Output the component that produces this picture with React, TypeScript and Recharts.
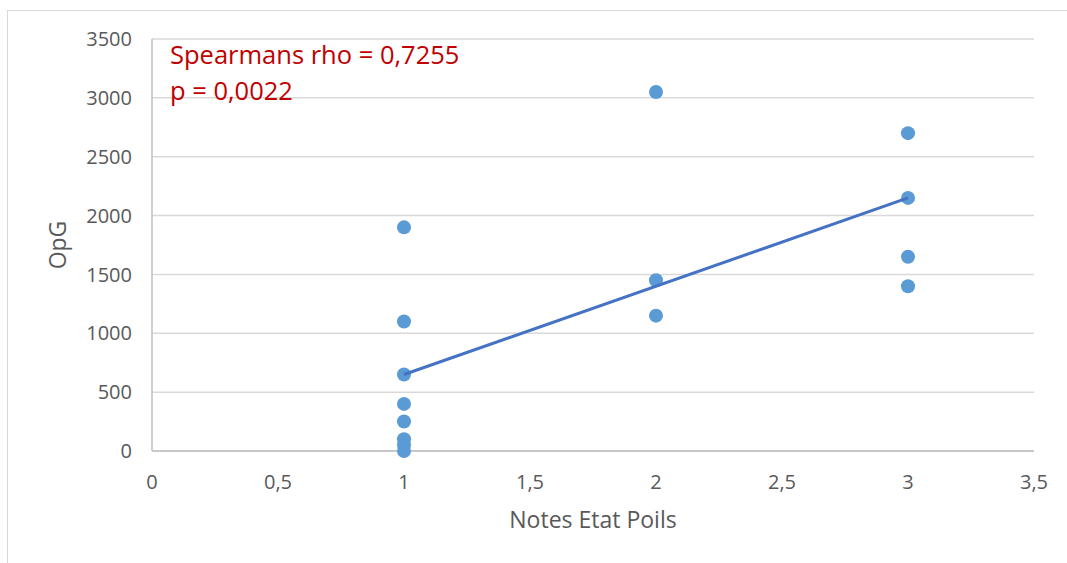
import { ScatterChart, Scatter, XAxis, YAxis, CartesianGrid, Label } from 'recharts'

// Notes Etat Poils (x) vs OpG (y)
const noteValues = [1, 1, 1, 1, 1, 1, 1, 1, 2, 2, 2, 3, 3, 3, 3]
const opgValues = [1900, 1100, 650, 400, 250, 100, 50, 0, 3050, 1450, 1150, 2700, 2150, 1650, 1400]

const trendNotes = [1, 3]
const trendOpg = [650, 2150]

const xTicks = [0, 0.5, 1, 1.5, 2, 2.5, 3, 3.5]
const yTicks = [0, 500, 1000, 1500, 2000, 2500, 3000, 3500]

const annotationLines = ['Spearmans rho = 0,7255', 'p = 0,0022']

const points = noteValues.map((x, i) => ({ x, y: opgValues[i] }))
const trend = trendNotes.map((x, i) => ({ x, y: trendOpg[i] }))

const fmt = (v: number) => String(v).replace('.', ',')

const font = '"Open Sans", sans-serif'
const tickStyle = { fill: '#595959', fontSize: 20, fontFamily: font }

export default function App() {
  return (
    <div style={{ position: 'absolute', left: 0, top: 0, width: 1067, height: 563, background: '#fff', overflow: 'hidden' }}>
      <div
        style={{
          position: 'absolute',
          left: 7,
          top: 10,
          width: 1080,
          height: 580,
          border: '1px solid #d9d9d9',
        }}
      />
      <ScatterChart
        width={1067}
        height={563}
        margin={{ top: 39, right: 33, bottom: 32, left: 0 }}
        style={{ position: 'absolute', left: 0, top: 0 }}
      >
        <CartesianGrid horizontal vertical={false} stroke="#d9d9d9" strokeWidth={1.5} />
        <XAxis
          type="number"
          dataKey="x"
          domain={[0, 3.5]}
          ticks={xTicks}
          tickFormatter={fmt}
          tickLine={false}
          axisLine={{ stroke: '#bfbfbf', strokeWidth: 1.5 }}
          tick={tickStyle}
          tickMargin={18}
          height={80}
        >
          <Label value="Notes Etat Poils" position="insideBottom" offset={3} style={{ fill: '#595959', fontSize: 23, fontFamily: font }} />
        </XAxis>
        <YAxis
          type="number"
          dataKey="y"
          domain={[0, 3500]}
          ticks={yTicks}
          tickLine={false}
          axisLine={{ stroke: '#bfbfbf', strokeWidth: 1.5 }}
          tick={tickStyle}
          tickMargin={20}
          tickSize={0}
          width={152}
        >
          <Label value="OpG" angle={-90} position="insideLeft" offset={58} style={{ fill: '#595959', fontSize: 23, fontFamily: font, textAnchor: 'middle' }} />
        </YAxis>
        <Scatter data={points} fill="#5B9BD5" shape={(p: any) => <circle cx={p.cx} cy={p.cy} r={7} fill="#5B9BD5" />} isAnimationActive={false} />
        <Scatter
          data={trend}
          line={{ stroke: '#4472C4', strokeWidth: 3 }}
          shape={() => <g />}
          isAnimationActive={false}
        />
      </ScatterChart>
      <div
        style={{
          position: 'absolute',
          left: 170,
          top: 36,
          color: '#C00000',
          fontFamily: font,
          fontSize: 25.5,
          lineHeight: '36px',
        }}
      >
        {annotationLines.map((t) => (
          <div key={t}>{t}</div>
        ))}
      </div>
    </div>
  )
}
